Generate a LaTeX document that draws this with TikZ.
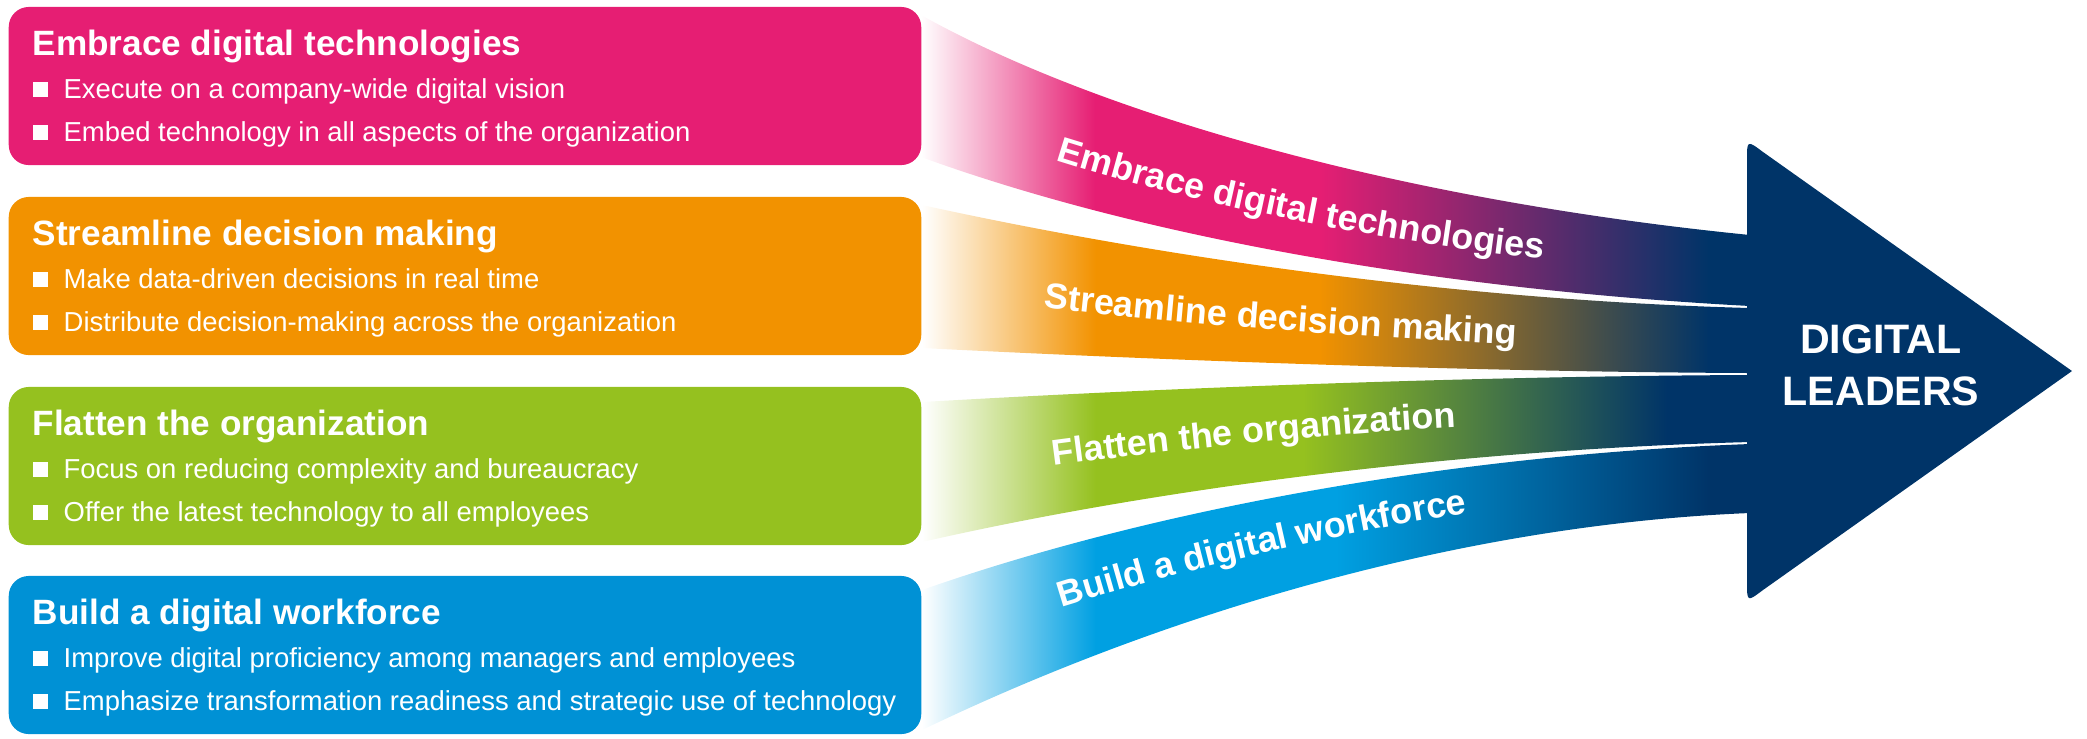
\documentclass[tikz,border=0pt]{standalone}
\usepackage{fontspec}
\setmainfont{Liberation Sans}
\usetikzlibrary{decorations.text}

\definecolor{pinkc}{RGB}{230,30,115}
\definecolor{orangec}{RGB}{242,146,0}
\definecolor{greenc}{RGB}{149,193,31}
\definecolor{bluec}{RGB}{0,145,213}
\definecolor{cyanc}{RGB}{0,160,226}
\definecolor{navyc}{RGB}{0,52,104}

\pgfdeclarehorizontalshading{pinkflow}{100bp}{color(0bp)=(white); color(25bp)=(white); color(35.5bp)=(pinkc); color(49bp)=(pinkc); color(72.5bp)=(navyc); color(100bp)=(navyc)}
\pgfdeclarehorizontalshading{orangeflow}{100bp}{color(0bp)=(white); color(25bp)=(white); color(35.5bp)=(orangec); color(49bp)=(orangec); color(72.5bp)=(navyc); color(100bp)=(navyc)}
\pgfdeclarehorizontalshading{greenflow}{100bp}{color(0bp)=(white); color(25bp)=(white); color(35.5bp)=(greenc); color(48bp)=(greenc); color(70bp)=(navyc); color(100bp)=(navyc)}
\pgfdeclarehorizontalshading{cyanflow}{100bp}{color(0bp)=(white); color(25bp)=(white); color(35.5bp)=(cyanc); color(50bp)=(cyanc); color(72.5bp)=(navyc); color(100bp)=(navyc)}

\newcommand{\ribfont}{\fontsize{10.2}{12}\selectfont\bfseries}

\tikzset{
	box/.style={rectangle, rounded corners=0.2cm, minimum width=9.12cm, minimum height=1.58cm, inner sep=0pt},
	title/.style={anchor=base west, inner sep=0pt, text=white, font=\fontsize{10}{12}\selectfont\bfseries},
	item/.style={anchor=base west, inner sep=0pt, text=white, font=\fontsize{7.8}{9}\selectfont},
	sq/.style={anchor=south west, fill=white, inner sep=0pt, minimum size=0.15cm},
	ribbontext/.style={decorate, decoration={text along path, text color=white, text align=center}},
}

\begin{document}
\begin{tikzpicture}[x=0.01cm, y=-0.01cm]
		\useasboundingbox (0,0) rectangle (2087,738);

		\shade[shading=pinkflow] (921,15) .. controls (1100,115) and (1400,200) .. (1750,235) -- (1750,306) .. controls (1450,290) and (1150,240) .. (921,157) -- cycle;
		\shade[shading=orangeflow] (922,205) .. controls (1150,255) and (1450,300) .. (1750,308) -- (1750,373) .. controls (1500,372) and (1200,362) .. (922,348) -- cycle;
		\shade[shading=greenflow] (922,402) .. controls (1200,386) and (1500,376) .. (1750,375) -- (1750,442) .. controls (1450,450) and (1150,490) .. (922,542) -- cycle;
		\shade[shading=cyanflow] (922,590) .. controls (1150,510) and (1450,455) .. (1750,444) -- (1750,513) .. controls (1450,525) and (1150,620) .. (922,730) -- cycle;

		\path[ribbontext, decoration={text={|\ribfont|Embrace digital technologies}}] (1030,152) .. controls (1170,200) and (1390,244) .. (1570,262);
		\path[ribbontext, decoration={text={|\ribfont|Streamline decision making}}] (1020,305) .. controls (1200,327) and (1400,339) .. (1540,346);
		\path[ribbontext, decoration={text={|\ribfont|Flatten the organization}}] (1030,469) .. controls (1180,448) and (1350,432) .. (1480,426);
		\path[ribbontext, decoration={text={|\ribfont|Build a digital workforce}}] (1038,615) .. controls (1170,572) and (1360,527) .. (1492,510);

		\fill[navyc] (1747,371) -- (1747,160) .. controls (1747,140) .. (1763,152) -- (2072,371) -- (1763,590) .. controls (1747,602) .. (1747,582) -- cycle;
		\node[align=center, text=white, font=\fontsize{11.7}{14.8}\selectfont\bfseries] (leaders) at (1881,365) {DIGITAL\\LEADERS};

		\node[box, fill=pinkc] (embrace) at (465,86) {};
		\node[title] (embrace-t) at (32,55) {Embrace digital technologies};
		\node[sq] (embrace-s1) at (32,98) {};
		\node[item] (embrace-1) at (63,98) {Execute on a company-wide digital vision};
		\node[sq] (embrace-s2) at (32,141) {};
		\node[item] (embrace-2) at (63,141) {Embed technology in all aspects of the organization};

		\node[box, fill=orangec] (streamline) at (465,276) {};
		\node[title] (streamline-t) at (32,245) {Streamline decision making};
		\node[sq] (streamline-s1) at (32,288) {};
		\node[item] (streamline-1) at (63,288) {Make data-driven decisions in real time};
		\node[sq] (streamline-s2) at (32,331) {};
		\node[item] (streamline-2) at (63,331) {Distribute decision-making across the organization};

		\node[box, fill=greenc] (flatten) at (465,466) {};
		\node[title] (flatten-t) at (32,435) {Flatten the organization};
		\node[sq] (flatten-s1) at (32,478) {};
		\node[item] (flatten-1) at (63,478) {Focus on reducing complexity and bureaucracy};
		\node[sq] (flatten-s2) at (32,521) {};
		\node[item] (flatten-2) at (63,521) {Offer the latest technology to all employees};

		\node[box, fill=bluec] (build) at (465,655) {};
		\node[title] (build-t) at (32,624) {Build a digital workforce};
		\node[sq] (build-s1) at (32,667) {};
		\node[item] (build-1) at (63,667) {Improve digital proficiency among managers and employees};
		\node[sq] (build-s2) at (32,710) {};
		\node[item] (build-2) at (63,710) {Emphasize transformation readiness and strategic use of technology};
	\end{tikzpicture}
\end{document}
